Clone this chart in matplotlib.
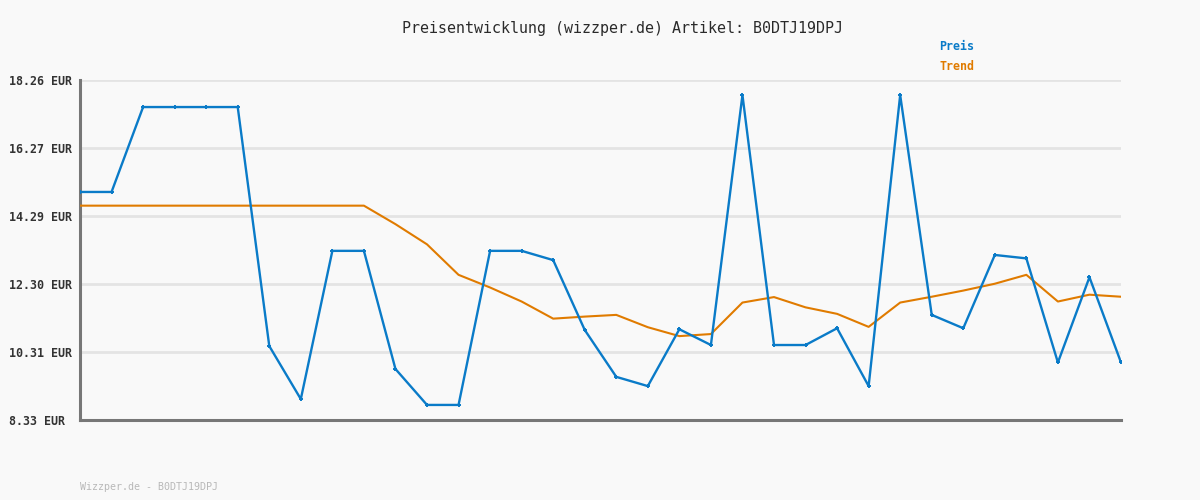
import numpy as np
import matplotlib.pyplot as plt

# price history (EUR) and trend, one value per data point
preis = [14.99, 14.99, 17.47, 17.47, 17.47, 17.47, 10.49, 8.94, 13.27, 13.27,
         9.82, 8.77, 8.77, 13.27, 13.27, 13.00, 10.96, 9.59, 9.32, 10.98,
         10.52, 17.82, 10.52, 10.52, 11.01, 9.32, 17.82, 11.40, 11.01, 13.15,
         13.05, 10.01, 12.50, 10.01]
trend = [14.59, 14.59, 14.59, 14.59, 14.59, 14.59, 14.59, 14.59, 14.59, 14.59,
         14.05, 13.46, 12.57, 12.20, 11.79, 11.29, 11.35, 11.40, 11.04, 10.78,
         10.84, 11.76, 11.92, 11.62, 11.43, 11.05, 11.76, 11.93, 12.11, 12.31,
         12.57, 11.79, 11.99, 11.93]
y_min = 8.33
y_max = 18.26
tick_lab = ['8.33 EUR', '10.31 EUR', '12.30 EUR', '14.29 EUR', '16.27 EUR', '18.26 EUR']
artikel = 'B0DTJ19DPJ'

bg = '#f9f9f9'
blue = '#0a7bc8'
orange = '#e07b00'
mono = 'DejaVu Sans Mono'

fig = plt.figure(figsize=(12, 5), dpi=100, facecolor=bg)
ax = fig.add_axes([80/1200, 80/500, 1041/1200, 340/500], facecolor=bg)

x = np.arange(len(preis))
ax.plot(x, trend, color=orange, lw=1.5, zorder=3)
ax.plot(x, preis, color=blue, lw=1.7, marker='+', ms=3.5, mew=1.4, zorder=4)

ax.set_xlim(0, len(preis) - 1)
ax.set_ylim(y_min, y_max)
ax.set_yticks(np.linspace(y_min, y_max, len(tick_lab)))
ax.set_yticklabels(tick_lab, family=mono, fontsize=8.4, fontweight='bold', color='#333333', ha='left')
ax.tick_params(axis='y', length=0, pad=51)
ax.set_xticks([])
ax.grid(True, axis='y', color='#e4e4e4', lw=2)
ax.set_axisbelow(True)

for s in ['top', 'right']:
    ax.spines[s].set_visible(False)
for s in ['left', 'bottom']:
    ax.spines[s].set_color('#777777')
    ax.spines[s].set_linewidth(2.2)

fig.text(623/1200, 1 - 28/500, 'Preisentwicklung (wizzper.de) Artikel: ' + artikel,
         family=mono, fontsize=10.8, color='#2a2a2a', ha='center', va='center')
fig.text(939/1200, 1 - 47/500, 'Preis', family=mono, fontsize=8.4, fontweight='bold',
         color=blue, ha='left', va='center')
fig.text(939/1200, 1 - 67/500, 'Trend', family=mono, fontsize=8.4, fontweight='bold',
         color=orange, ha='left', va='center')
fig.text(80/1200, 1 - 487/500, 'Wizzper.de - ' + artikel, family=mono, fontsize=7.2,
         color='#b8b8b8', ha='left', va='center')

plt.savefig('out.png', dpi=100, facecolor=bg)
